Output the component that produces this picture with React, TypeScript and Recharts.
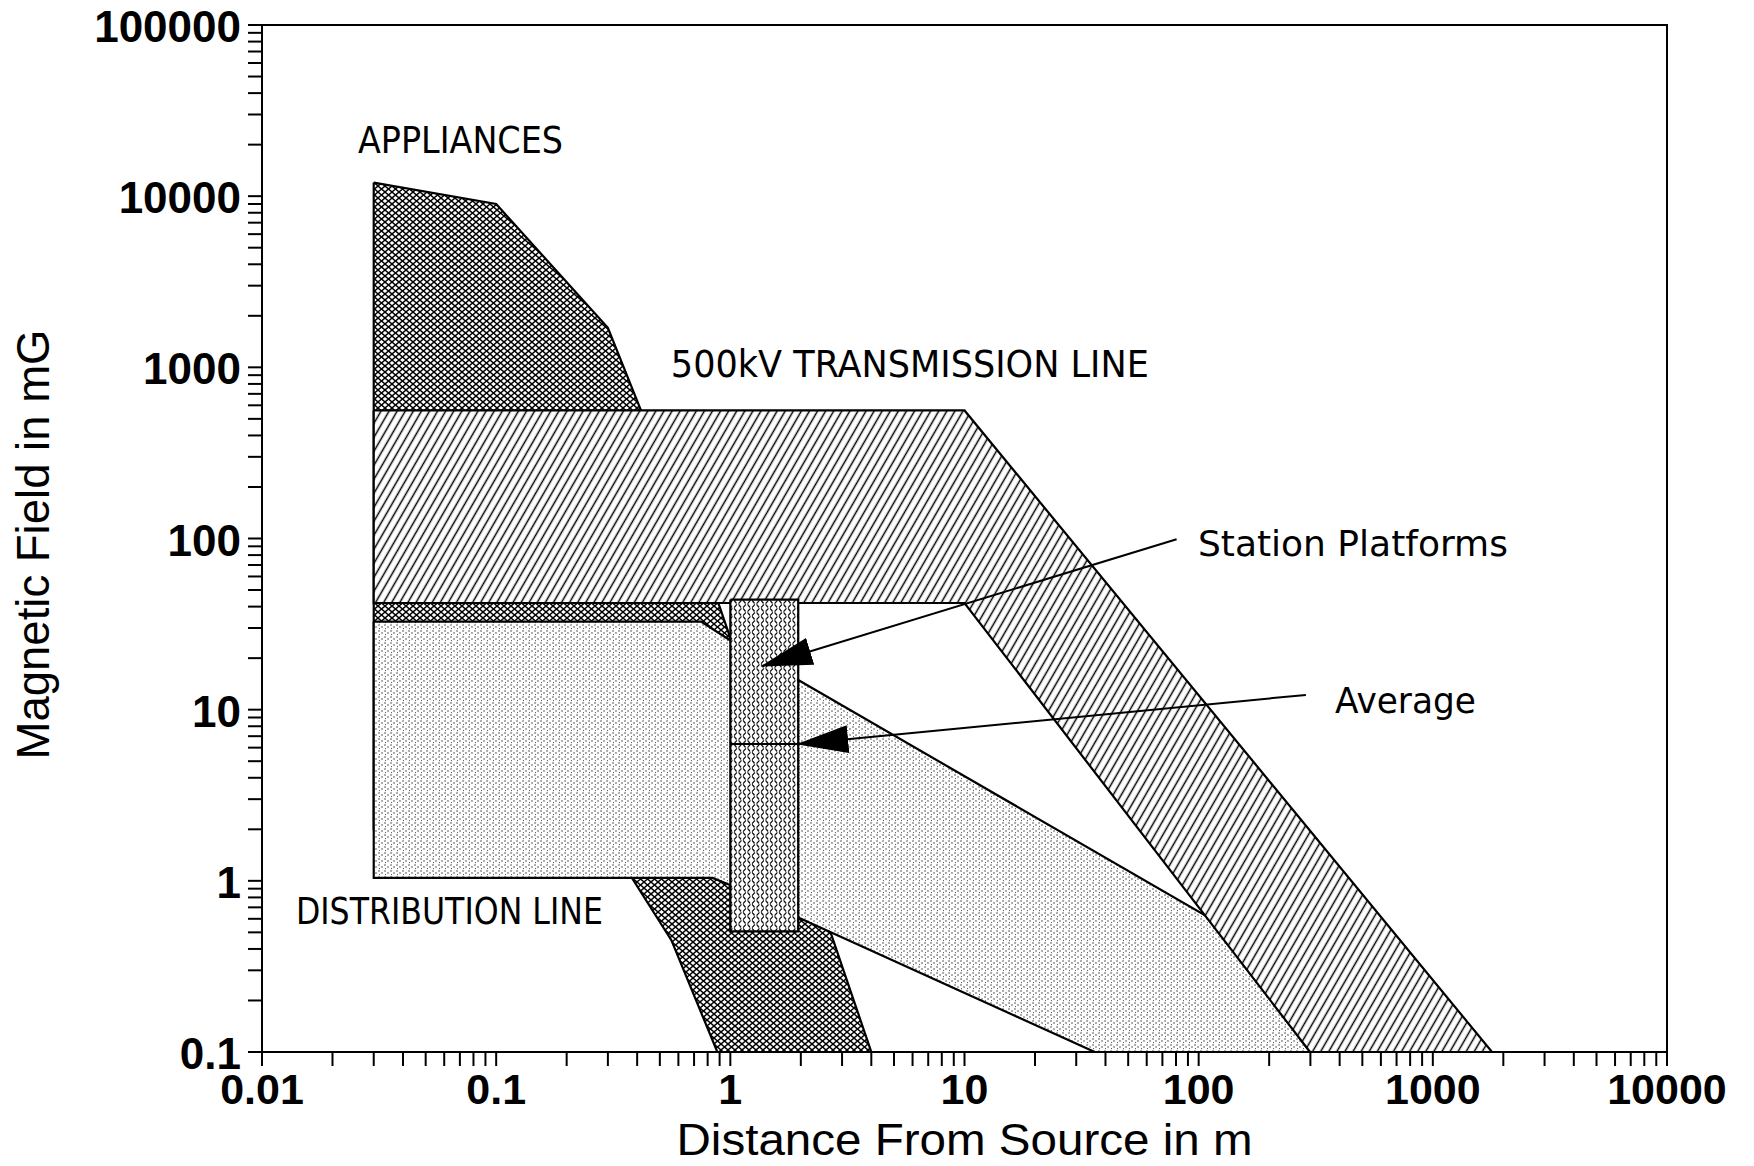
import React from 'react';
import {
  ComposedChart,
  XAxis,
  YAxis,
  Area,
  Line,
  ReferenceArea,
  ReferenceDot,
  Label,
} from 'recharts';

// outlines, [distance in m, field in mG]
const appliances: [number, number][] = [
  [0.03, 12000], [0.1, 9000], [0.3, 1700], [0.9, 40], [4, 0.1],
  [0.88, 0.1], [0.56, 0.45], [0.38, 1.04], [0.03, 2],
];
const transmission: [number, number][] = [
  [0.03, 560], [10, 560], [1790, 0.1], [299, 0.1], [10, 42], [0.03, 42],
];
const distribution: [number, number][] = [
  [0.03, 32.7], [0.75, 32.7], [0.99, 25.6], [1.95, 14.9], [113, 0.6],
  [299, 0.1], [36, 0.1], [1.95, 0.61], [0.99, 0.95], [0.84, 1.04], [0.03, 1.04],
];
const platforms: [number, number][] = [[1, 44], [1.95, 44], [1.95, 0.506], [1, 0.506]];
const platformAverage: [number, number][] = [[1, 6.3], [1.95, 6.3]];

// annotation arrows, start -> tip
const arrowPlatforms: [number, number][] = [[80.5, 99], [1.37, 18]];
const arrowAverage: [number, number][] = [[287, 12.2], [1.95, 6.3]];

const X_LABELS = [0.01, 0.1, 1, 10, 100, 1000, 10000];
const Y_LABELS = [0.1, 1, 10, 100, 1000, 10000, 100000];

const withMinor = (decades: number[]) =>
  decades.flatMap((d, i) =>
    i === decades.length - 1 ? [d] : [1, 2, 3, 4, 5, 6, 7, 8, 9].map((m) => d * m)
  );
const X_TICKS = withMinor(X_LABELS);
const Y_TICKS = withMinor(Y_LABELS);

const closed = (pts: [number, number][]) =>
  [...pts, pts[0]].map(([x, y]) => ({ x, y }));
const rows = (pts: [number, number][]) => pts.map(([x, y]) => ({ x, y }));

const NUM_FONT = '"Liberation Sans", Arial, Helvetica, sans-serif';
const NOTE_FONT = '"DejaVu Sans", "Liberation Sans", sans-serif';

const XTick = (props: any) => {
  const { x, y, payload } = props;
  const v = payload.value;
  const major = X_LABELS.includes(v);
  return (
    <g>
      <line x1={x} y1={y} x2={x} y2={y + 14} stroke="#000" strokeWidth={2} />
      {major && (
        <text x={x} y={y + 52} textAnchor="middle" fontFamily={NUM_FONT} fontSize={43}
          fontWeight="bold" fill="#000">
          {String(v)}
        </text>
      )}
    </g>
  );
};

const YTick = (props: any) => {
  const { x, y, payload } = props;
  const v = payload.value;
  const major = Y_LABELS.includes(v);
  return (
    <g>
      <line x1={x - 14} y1={y} x2={x} y2={y} stroke="#000" strokeWidth={2} />
      {major && (
        <text x={x - 21} y={y + 17} textAnchor="end" fontFamily={NUM_FONT} fontSize={44}
          fontWeight="bold" fill="#000">
          {String(v)}
        </text>
      )}
    </g>
  );
};

const note = (text: string, size: number, width: number) => (p: any) => {
  const vb = p.viewBox || {};
  const cx = vb.x + (vb.width || 0) / 2;
  const cy = vb.y + (vb.height || 0) / 2;
  return (
    <text
      x={cx}
      y={cy + size * 0.36}
      fontFamily={NOTE_FONT}
      fontSize={size}
      textLength={width}
      lengthAdjust="spacingAndGlyphs"
      fill="#000"
    >
      {text}
    </text>
  );
};

const XTitle = (p: any) => {
  const vb = p.viewBox;
  return (
    <text
      x={vb.x + vb.width / 2}
      y={vb.y + 103}
      textAnchor="middle"
      fontFamily={NUM_FONT}
      fontSize={45}
      textLength={576}
      lengthAdjust="spacingAndGlyphs"
      fill="#000"
    >
      Distance From Source in m
    </text>
  );
};

const YTitle = (p: any) => {
  const vb = p.viewBox;
  const cy = vb.y + vb.height / 2 + 6;
  return (
    <text
      x={49}
      y={cy}
      transform={`rotate(-90, 49, ${cy})`}
      textAnchor="middle"
      fontFamily={NUM_FONT}
      fontSize={46}
      textLength={430}
      lengthAdjust="spacingAndGlyphs"
      fill="#000"
    >
      Magnetic Field in mG
    </text>
  );
};

const outline = { stroke: '#000', strokeWidth: 2.2, fillOpacity: 1 };

export default function App() {
  return (
    <div style={{ position: 'absolute', left: 0, top: 0, background: '#fff' }}>
      <ComposedChart
        width={1754}
        height={1166}
        margin={{ top: 25, right: 87, bottom: 0, left: 0 }}
      >
        <defs>
          <pattern id="cross" width="7" height="6" patternUnits="userSpaceOnUse">
            <rect width="7" height="6" fill="#fff" />
            <path d="M0,0 L7,6 M7,0 L0,6" stroke="#000" strokeWidth={1.4} />
          </pattern>
          <pattern
            id="hatch"
            width="7"
            height="7"
            patternUnits="userSpaceOnUse"
            patternTransform="rotate(30)"
          >
            <rect width="7" height="7" fill="#fff" />
            <line x1="3.5" y1="0" x2="3.5" y2="7" stroke="#000" strokeWidth={1.5} />
          </pattern>
          <pattern id="stipple" width="6" height="6" patternUnits="userSpaceOnUse">
            <rect width="6" height="6" fill="#fff" />
            <circle cx="1" cy="1" r="0.7" fill="#222" />
            <circle cx="4" cy="3" r="0.7" fill="#222" />
            <circle cx="1.5" cy="4.6" r="0.55" fill="#444" />
          </pattern>
          <pattern id="dashes" width="9" height="8" patternUnits="userSpaceOnUse">
            <rect width="9" height="8" fill="#fff" />
            <path
              d="M1,3.2 L3,0.8 M5.5,7.2 L7.5,4.8 M5.5,0.8 L7.2,3 M1,4.8 L2.7,7"
              stroke="#111"
              strokeWidth={1.3}
              strokeLinecap="round"
            />
          </pattern>
          <marker
            id="arrowHead"
            markerWidth="52"
            markerHeight="28"
            refX="50"
            refY="14"
            orient="auto"
            markerUnits="userSpaceOnUse"
          >
            <path d="M0,0 L52,14 L0,28 Z" fill="#000" />
          </marker>
        </defs>

        <XAxis
          type="number"
          dataKey="x"
          scale="log"
          domain={[0.01, 10000]}
          allowDataOverflow
          ticks={X_TICKS}
          interval={0}
          tick={<XTick />}
          tickLine={false}
          tickSize={0}
          tickMargin={0}
          axisLine={{ stroke: '#000', strokeWidth: 2 }}
          height={114}
        >
          <Label content={XTitle} />
        </XAxis>
        <YAxis
          type="number"
          dataKey="y"
          scale="log"
          domain={[0.1, 100000]}
          allowDataOverflow
          ticks={Y_TICKS}
          interval={0}
          tick={<YTick />}
          tickLine={false}
          tickSize={0}
          tickMargin={0}
          axisLine={{ stroke: '#000', strokeWidth: 2 }}
          width={262}
        >
          <Label content={YTitle} />
        </YAxis>

        <Area
          data={closed(appliances)}
          dataKey="y"
          type="linear"
          baseValue={0.1}
          fill="url(#cross)"
          {...outline}
          dot={false}
          activeDot={false}
          isAnimationActive={false}
        />
        <Area
          data={closed(distribution)}
          dataKey="y"
          type="linear"
          baseValue={0.1}
          fill="url(#stipple)"
          {...outline}
          dot={false}
          activeDot={false}
          isAnimationActive={false}
        />
        <Area
          data={closed(transmission)}
          dataKey="y"
          type="linear"
          baseValue={0.1}
          fill="url(#hatch)"
          {...outline}
          dot={false}
          activeDot={false}
          isAnimationActive={false}
        />
        <Area
          data={closed(platforms)}
          dataKey="y"
          type="linear"
          baseValue={0.1}
          fill="url(#dashes)"
          {...outline}
          dot={false}
          activeDot={false}
          isAnimationActive={false}
        />
        <Line
          data={rows(platformAverage)}
          dataKey="y"
          type="linear"
          stroke="#000"
          strokeWidth={2}
          dot={false}
          activeDot={false}
          isAnimationActive={false}
        />
        <Line
          data={rows(arrowPlatforms)}
          dataKey="y"
          type="linear"
          stroke="#000"
          strokeWidth={2}
          markerEnd="url(#arrowHead)"
          dot={false}
          activeDot={false}
          isAnimationActive={false}
        />
        <Line
          data={rows(arrowAverage)}
          dataKey="y"
          type="linear"
          stroke="#000"
          strokeWidth={2}
          markerEnd="url(#arrowHead)"
          dot={false}
          activeDot={false}
          isAnimationActive={false}
        />

        <ReferenceArea
          x1={0.01}
          x2={10000}
          y1={0.1}
          y2={100000}
          fill="none"
          fillOpacity={0}
          stroke="#000"
          strokeWidth={2}
          ifOverflow="visible"
        />

        <ReferenceDot x={0.0257} y={21300} r={1} fill="none" stroke="none" ifOverflow="visible"
          label={{ content: note('APPLIANCES', 37, 205) }} />
        <ReferenceDot x={0.557} y={1054} r={1} fill="none" stroke="none" ifOverflow="visible"
          label={{ content: note('500kV TRANSMISSION LINE', 37, 478) }} />
        <ReferenceDot x={0.01396} y={0.668} r={1} fill="none" stroke="none" ifOverflow="visible"
          label={{ content: note('DISTRIBUTION LINE', 37, 307) }} />
        <ReferenceDot x={99.3} y={94} r={1} fill="none" stroke="none" ifOverflow="visible"
          label={{ content: note('Station Platforms', 36, 310) }} />
        <ReferenceDot x={382} y={11.4} r={1} fill="none" stroke="none" ifOverflow="visible"
          label={{ content: note('Average', 36, 141) }} />
      </ComposedChart>
    </div>
  );
}
